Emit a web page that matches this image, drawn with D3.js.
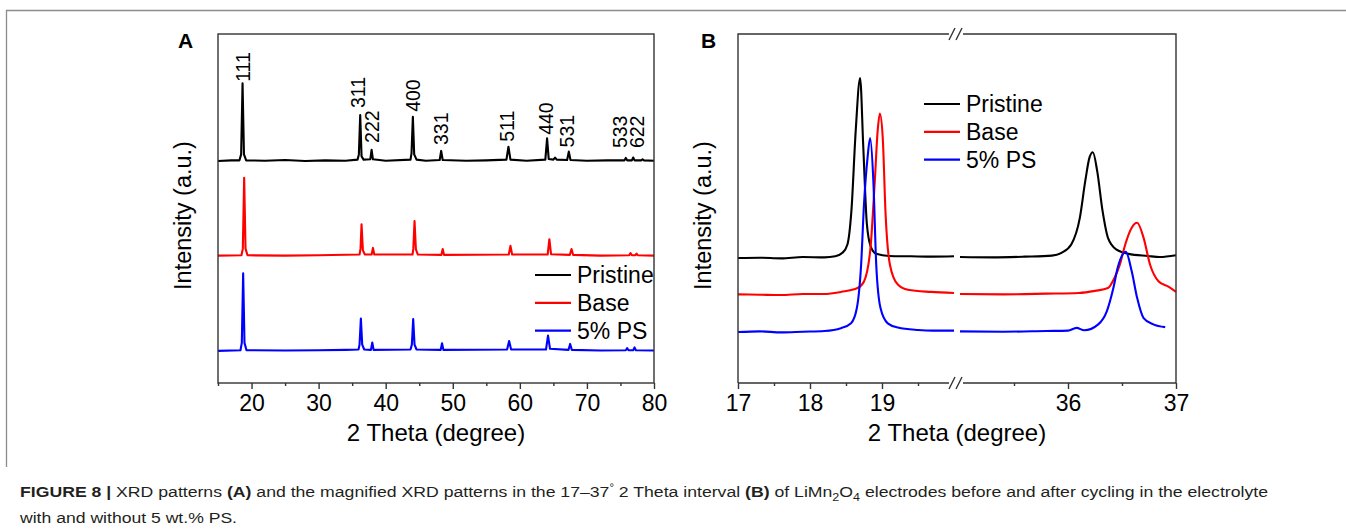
<!DOCTYPE html>
<html>
<head>
<meta charset="utf-8">
<script src="https://cdn.jsdelivr.net/npm/d3@7"></script>
<style>
  body { margin: 0; background: #fff; }
  svg text { font-family: Arial, "Liberation Sans", sans-serif; }
</style>
</head>
<body>
<div id="chart"></div>
<script>
// ---- data: panel A, full patterns, [2theta, intensity (a.u., offset stacked)] ----
const pristineA = [
  [15, 63.6], [17, 63.8], [18.2, 63.8], [18.45, 65.5], [18.66, 85.9], [18.87, 65.5], [19.2, 63.8],
  [22, 63.7], [25, 63.9], [28, 63.6], [31, 63.8], [34, 63.7], [35.8, 64.0], [36.0, 65.5], [36.2, 76.8],
  [36.4, 65.0], [36.7, 64.0], [37.7, 64.1], [37.9, 66.8], [38.1, 64.1], [40, 63.7], [43.7, 64.0],
  [43.85, 65.8], [44.05, 76.3], [44.25, 65.5], [44.6, 64.0], [46, 63.7], [48.05, 63.9], [48.27, 66.5],
  [48.5, 63.9], [52, 63.7], [55, 63.8], [58.0, 64.0], [58.3, 67.7], [58.6, 64.0], [61, 63.7],
  [63.8, 64.0], [64.06, 70.1], [64.3, 64.2], [65.0, 64.0], [65.25, 64.6], [65.5, 64.0], [67.05, 63.9],
  [67.3, 66.3], [67.55, 63.9], [70, 63.7], [73, 63.8], [75.6, 63.8], [75.8, 64.5], [76.0, 63.8],
  [76.7, 63.8], [76.9, 64.6], [77.1, 63.8], [78.1, 63.8], [78.3, 64.1], [78.5, 63.8], [80, 63.7]
];
const baseA = [
  [15, 36.5], [18.5, 36.6], [18.7, 38.5], [18.9, 58.8], [19.1, 38.5], [19.4, 36.6], [25, 36.5],
  [30, 36.6], [36.1, 36.8], [36.25, 38.5], [36.4, 45.5], [36.6, 38.0], [36.9, 36.8], [37.9, 36.8],
  [38.1, 38.7], [38.3, 36.8], [44.0, 36.8], [44.12, 38.5], [44.3, 46.4], [44.5, 38.3], [44.8, 36.8],
  [48.3, 36.7], [48.5, 38.4], [48.7, 36.7], [58.35, 36.8], [58.6, 39.3], [58.85, 36.8], [64.15, 36.8],
  [64.4, 41.2], [64.65, 36.9], [67.45, 36.7], [67.7, 38.4], [67.95, 36.7], [72, 36.5], [76.3, 36.6],
  [76.5, 37.2], [76.7, 36.6], [77.2, 36.6], [77.4, 37.1], [77.6, 36.6], [80, 36.5]
];
const ps5A = [
  [15, 9.2], [18.35, 9.4], [18.55, 11.5], [18.75, 31.4], [18.95, 11.5], [19.25, 9.4], [25, 9.3],
  [30, 9.4], [34, 9.5], [35.95, 9.6], [36.1, 11.0], [36.3, 18.5], [36.5, 11.0], [36.8, 9.6],
  [37.8, 9.5], [38.0, 11.6], [38.2, 9.5], [43.7, 9.6], [43.9, 11.0], [44.1, 18.3], [44.3, 11.0],
  [44.6, 9.6], [48.2, 9.5], [48.4, 11.4], [48.6, 9.5], [58.1, 9.6], [58.4, 12.0], [58.7, 9.6],
  [63.9, 9.6], [64.2, 13.6], [64.5, 9.8], [67.25, 9.5], [67.5, 11.2], [67.75, 9.5], [72, 9.3],
  [75.8, 9.4], [76.0, 10.0], [76.2, 9.4], [76.9, 9.4], [77.1, 10.2], [77.3, 9.4], [80, 9.3]
];

// hkl annotations: label, 2theta of label, intensity level at label foot
const hklLabels = ['111', '311', '222', '400', '331', '511', '440', '531', '533', '622'];
const hklTheta = [18.66, 35.8, 37.9, 44.05, 48.27, 58.1, 63.9, 67.1, 74.9, 77.4];
const hklLevel = [86.3, 78.8, 68.8, 77.7, 68.2, 69.1, 71.1, 67.5, 67.3, 67.3];

// ---- data: panel B, magnified, split at the axis break ----
const pristineB1 = [
  [17, 35.8], [17.3, 35.9], [17.6, 35.7], [17.9, 36.1], [18.2, 36.0], [18.35, 36.3], [18.45, 37.3],
  [18.52, 39.7], [18.575, 49.3], [18.635, 72.3], [18.696, 87.4], [18.74, 67.6], [18.79, 45.5],
  [18.845, 39.0], [18.92, 37.0], [19.1, 36.4], [19.4, 36.3], [19.7, 36.2], [20, 36.3]
];
const pristineB2 = [
  [35, 36.1], [35.3, 36.0], [35.6, 36.2], [35.85, 36.5], [35.94, 37.3], [36.03, 39.7], [36.11, 47.4],
  [36.16, 57.9], [36.2, 64.7], [36.23, 66.1], [36.27, 60.8], [36.32, 49.3], [36.37, 41.6],
  [36.45, 38.2], [36.56, 37.0], [36.74, 36.4], [36.85, 36.1], [37, 36.6]
];
const baseB1 = [
  [17, 25.4], [17.3, 25.3], [17.6, 25.2], [17.9, 25.5], [18.2, 25.5], [18.43, 26.1], [18.66, 27.2],
  [18.75, 29.1], [18.84, 38.7], [18.9, 57.9], [18.94, 72.3], [18.97, 77.2], [19.01, 70.4],
  [19.05, 48.3], [19.11, 33.9], [19.22, 28.2], [19.36, 26.7], [19.68, 26.1], [20, 25.8]
];
const baseB2 = [
  [35, 25.5], [35.4, 25.4], [35.8, 25.6], [36.1, 25.8], [36.25, 26.4], [36.37, 27.2], [36.43, 30.1],
  [36.48, 33.9], [36.53, 39.7], [36.59, 44.5], [36.64, 45.9], [36.7, 41.6], [36.76, 33.9],
  [36.84, 29.1], [36.93, 27.6], [37, 26.1]
];
const ps5B1 = [
  [17, 14.6], [17.3, 14.8], [17.6, 14.5], [17.9, 14.7], [18.2, 14.9], [18.43, 15.7], [18.57, 17.1],
  [18.65, 21.4], [18.71, 33.9], [18.75, 51.2], [18.8, 64.7], [18.835, 70.2], [18.88, 57.9],
  [18.92, 33.9], [18.98, 21.4], [19.08, 17.1], [19.22, 15.9], [19.5, 15.2], [19.7, 15.0], [20, 15.0]
];
const ps5B2 = [
  [35, 14.8], [35.4, 14.7], [35.8, 14.9], [36.0, 15.0], [36.08, 15.8], [36.15, 15.1], [36.28, 16.8],
  [36.36, 20.6], [36.42, 27.2], [36.46, 33.0], [36.535, 37.6], [36.59, 32.0], [36.64, 24.4],
  [36.7, 18.6], [36.79, 16.8], [36.9, 16.0]
];

const seriesNames = ['Pristine', 'Base', '5% PS'];
const seriesColors = ['#000000', '#ff0000', '#0000ff'];

// tick values
const majorA = [20, 30, 40, 50, 60, 70, 80];
const minorA = [15, 25, 35, 45, 55, 65, 75];
const majorB1 = [17, 18, 19];
const minorB1 = [17.5, 18.5, 19.5];
const majorB2 = [36, 37];
const minorB2 = [35.5, 36.5];

// ---- drawing ----
const svg = d3.select('#chart').append('svg')
  .attr('width', 1346)
  .attr('height', 531);

// figure frame (top and left)
svg.append('path')
  .attr('d', 'M6.5,467 V10.5 H1346')
  .attr('fill', 'none')
  .attr('stroke', '#8c8c8c')
  .attr('stroke-width', 1.3);

const axisColor = '#333';
const fontSize = 23;

function styleAxis(g) {
  g.select('.domain').remove();
  g.selectAll('line').attr('stroke', axisColor).attr('stroke-width', 1.4);
  g.selectAll('text').attr('font-size', fontSize).attr('fill', '#000')
    .attr('font-family', 'Arial, "Liberation Sans", sans-serif');
}

function bottomAxis(g, scale, major, minor, h) {
  g.append('g')
    .attr('transform', 'translate(0,' + h + ')')
    .call(d3.axisBottom(scale).tickValues(major).tickSize(6).tickPadding(6).tickFormat(d3.format('d')))
    .call(styleAxis);
  g.append('g')
    .attr('transform', 'translate(0,' + h + ')')
    .call(d3.axisBottom(scale).tickValues(minor).tickSize(3).tickFormat(''))
    .call(styleAxis);
}

function legend(g, x, y) {
  let lg = g.append('g').attr('transform', 'translate(' + x + ',' + y + ')');
  let item = lg.selectAll('g')
    .data(seriesNames)
    .enter().append('g')
    .attr('transform', (d, i) => 'translate(0,' + i * 27.8 + ')');
  item.append('line')
    .attr('x1', 0).attr('x2', 36)
    .attr('stroke', (d, i) => seriesColors[i])
    .attr('stroke-width', 2.2);
  item.append('text')
    .attr('x', 42)
    .attr('dy', '0.35em')
    .attr('font-size', fontSize)
    .text(d => d);
}

function yTitle(g, h) {
  g.append('text')
    .attr('transform', 'rotate(-90)')
    .attr('x', -h / 2 - 7)
    .attr('y', -27)
    .attr('text-anchor', 'middle')
    .attr('font-size', 23.5)
    .text('Intensity (a.u.)');
}

function xTitle(g, w, h) {
  g.append('text')
    .attr('x', w / 2)
    .attr('y', h + 58)
    .attr('text-anchor', 'middle')
    .attr('font-size', 24)
    .text('2 Theta (degree)');
}

// panel A
const A = {left: 218, top: 34, width: 436, height: 349};
const gA = svg.append('g').attr('transform', 'translate(' + A.left + ',' + A.top + ')');
const xA = d3.scaleLinear().domain([15, 80]).range([0, A.width]);
const yA = d3.scaleLinear().domain([0, 100]).range([A.height, 0]);

const lineA = d3.line().x(d => xA(d[0])).y(d => yA(d[1]));
[pristineA, baseA, ps5A].forEach((s, i) => {
  gA.append('path')
    .datum(s)
    .attr('fill', 'none')
    .attr('stroke', seriesColors[i])
    .attr('stroke-width', 2.1)
    .attr('stroke-linejoin', 'round')
    .attr('d', lineA);
});

gA.append('g')
  .selectAll('text')
  .data(hklLabels)
  .enter().append('text')
  .attr('transform', (d, i) => 'translate(' + (xA(hklTheta[i]) + 7) + ',' + (yA(hklLevel[i])) + ') rotate(-90)')
  .attr('font-size', 19.5)
  .text(d => d);

gA.append('rect')
  .attr('width', A.width).attr('height', A.height)
  .attr('fill', 'none').attr('stroke', axisColor).attr('stroke-width', 1.4);
bottomAxis(gA, xA, majorA, minorA, A.height);
yTitle(gA, A.height);
xTitle(gA, A.width, A.height);
legend(gA, 317, 241);

svg.append('text')
  .attr('x', 178).attr('y', 48)
  .attr('font-size', 21).attr('font-weight', 'bold')
  .text('A');

// panel B (broken x axis)
const B = {left: 738, top: 34, width: 438, height: 349};
const gB = svg.append('g').attr('transform', 'translate(' + B.left + ',' + B.top + ')');
const xB1 = d3.scaleLinear().domain([17, 20]).range([0, 216]);
const xB2 = d3.scaleLinear().domain([35, 37]).range([222, B.width]);
const yB = d3.scaleLinear().domain([0, 100]).range([B.height, 0]);

const lineB1 = d3.line().x(d => xB1(d[0])).y(d => yB(d[1])).curve(d3.curveMonotoneX);
const lineB2 = d3.line().x(d => xB2(d[0])).y(d => yB(d[1])).curve(d3.curveMonotoneX);
[[pristineB1, pristineB2], [baseB1, baseB2], [ps5B1, ps5B2]].forEach((pair, i) => {
  gB.append('path').datum(pair[0])
    .attr('fill', 'none').attr('stroke', seriesColors[i]).attr('stroke-width', 2.1)
    .attr('d', lineB1);
  gB.append('path').datum(pair[1])
    .attr('fill', 'none').attr('stroke', seriesColors[i]).attr('stroke-width', 2.1)
    .attr('d', lineB2);
});

// frame of panel B with the break on top and bottom
const brk = 218;
const frameB = gB.append('g')
  .attr('fill', 'none').attr('stroke', axisColor).attr('stroke-width', 1.4);
frameB.append('path').attr('d',
  'M0,' + B.height + ' V0 H' + (brk - 7) +
  ' M' + (brk + 7) + ',0 H' + B.width + ' V' + B.height + ' H' + (brk + 7) +
  ' M' + (brk - 7) + ',' + B.height + ' H0');
[0, B.height].forEach(yy => {
  [-4, 3].forEach(dx => {
    frameB.append('line')
      .attr('x1', brk + dx - 3).attr('y1', yy + 6)
      .attr('x2', brk + dx + 3).attr('y2', yy - 6);
  });
});

bottomAxis(gB, xB1, majorB1, minorB1, B.height);
bottomAxis(gB, xB2, majorB2, minorB2, B.height);
yTitle(gB, B.height);
xTitle(gB, B.width, B.height);
legend(gB, 186, 70);

svg.append('text')
  .attr('x', 701).attr('y', 48)
  .attr('font-size', 21).attr('font-weight', 'bold')
  .text('B');

// caption
const cap = svg.append('text')
  .attr('x', 20).attr('y', 497)
  .attr('font-size', 15.5)
  .attr('fill', '#231f20')
  .attr('textLength', 1248)
  .attr('lengthAdjust', 'spacingAndGlyphs');
cap.append('tspan').attr('font-weight', 'bold').text('FIGURE 8 |');
cap.append('tspan').text(' XRD patterns ');
cap.append('tspan').attr('font-weight', 'bold').text('(A)');
cap.append('tspan').text(' and the magnified XRD patterns in the 17\u201337');
cap.append('tspan').attr('dy', -6).attr('font-size', 10).text('\u00b0');
cap.append('tspan').attr('dy', 6).text(' 2 Theta interval ');
cap.append('tspan').attr('font-weight', 'bold').text('(B)');
cap.append('tspan').text(' of LiMn');
cap.append('tspan').attr('dy', 4).attr('font-size', 11).text('2');
cap.append('tspan').attr('dy', -4).text('O');
cap.append('tspan').attr('dy', 4).attr('font-size', 11).text('4');
cap.append('tspan').attr('dy', -4).text(' electrodes before and after cycling in the electrolyte');

svg.append('text')
  .attr('x', 20).attr('y', 523)
  .attr('font-size', 15.5)
  .attr('fill', '#231f20')
  .attr('textLength', 217)
  .attr('lengthAdjust', 'spacingAndGlyphs')
  .text('with and without 5 wt.% PS.');
</script>
</body>
</html>
